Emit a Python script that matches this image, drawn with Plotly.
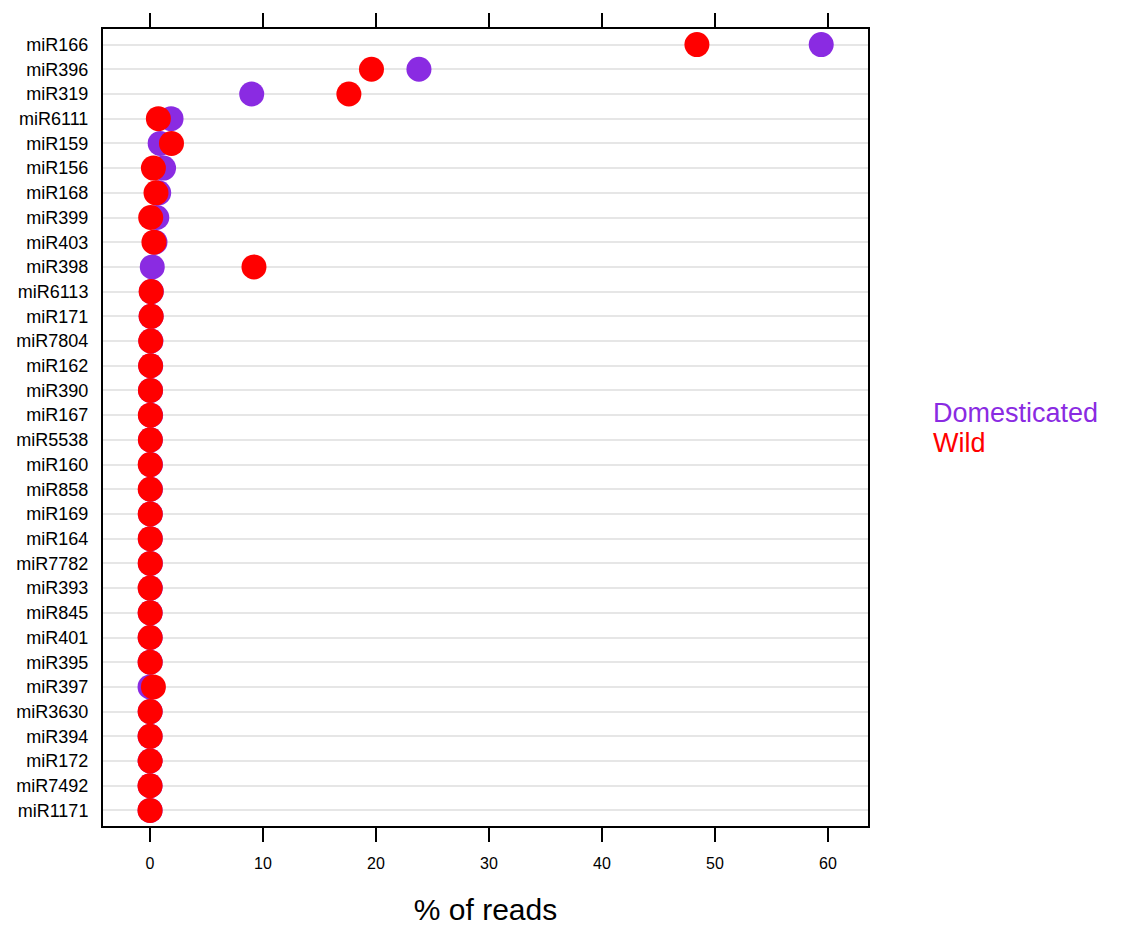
import plotly.graph_objects as go

mirnas = ["miR166", "miR396", "miR319", "miR6111", "miR159", "miR156", "miR168",
          "miR399", "miR403", "miR398", "miR6113", "miR171", "miR7804", "miR162",
          "miR390", "miR167", "miR5538", "miR160", "miR858", "miR169", "miR164",
          "miR7782", "miR393", "miR845", "miR401", "miR395", "miR397", "miR3630",
          "miR394", "miR172", "miR7492", "miR1171"]

domesticated = [59.4, 23.8, 9.0, 1.86, 0.9, 1.2, 0.77, 0.6, 0.44, 0.2, 0.12, 0.1,
                0.08, 0.06, 0.05, 0.05, 0.04, 0.04, 0.04, 0.03, 0.03, 0.03, 0.03,
                0.02, 0.02, 0.02, 0.0, 0.02, 0.01, 0.01, 0.01, 0.01]

wild = [48.4, 19.6, 17.6, 0.74, 1.9, 0.3, 0.53, 0.06, 0.35, 9.2, 0.1, 0.1,
        0.06, 0.05, 0.04, 0.03, 0.03, 0.02, 0.02, 0.02, 0.02, 0.02, 0.01,
        0.01, 0.01, 0.01, 0.3, 0.01, 0.01, 0.01, 0.0, 0.0]

x_ticks = [0, 10, 20, 30, 40, 50, 60]

FONT = "Liberation Sans, Arial, Helvetica, sans-serif"
PURPLE = "#8A2BE2"
RED = "#FF0000"

fig = go.Figure()
fig.add_trace(go.Scatter(x=domesticated, y=mirnas, mode="markers", name="Domesticated",
                         marker=dict(color=PURPLE, size=25, line=dict(width=0)),
                         showlegend=False))
fig.add_trace(go.Scatter(x=wild, y=mirnas, mode="markers", name="Wild",
                         marker=dict(color=RED, size=25, line=dict(width=0)),
                         showlegend=False))

fig.update_layout(
    width=1128, height=926,
    margin=dict(l=103, r=260, t=29, b=100),
    plot_bgcolor="white", paper_bgcolor="white",
    font=dict(family=FONT, color="black"),
    xaxis=dict(range=[-4.16, 63.54], tickvals=x_ticks, ticks="outside", ticklen=14,
               tickwidth=2, tickcolor="black", showline=True, linewidth=2,
               linecolor="black", mirror="ticks", showgrid=False, zeroline=False,
               tickfont=dict(size=16), ticklabelstandoff=8, automargin=False,
               title=dict(text="% of reads", font=dict(size=30), standoff=29)),
    yaxis=dict(type="category", categoryorder="array", categoryarray=mirnas[::-1],
               range=[-0.63, 31.63], showline=True, linewidth=2, linecolor="black",
               mirror=True, ticks="", showgrid=True, gridcolor="#e6e6e6",
               gridwidth=2, zeroline=False, tickfont=dict(size=18),
               ticklabelstandoff=9, automargin=False),
)

fig.add_annotation(x=1.082, y=0.518, xref="paper", yref="paper", xanchor="left",
                   yanchor="middle", text="Domesticated", showarrow=False,
                   font=dict(size=27, color=PURPLE, family=FONT))
fig.add_annotation(x=1.082, y=0.481, xref="paper", yref="paper", xanchor="left",
                   yanchor="middle", text="Wild", showarrow=False,
                   font=dict(size=27, color=RED, family=FONT))

fig.write_html("out.html")
